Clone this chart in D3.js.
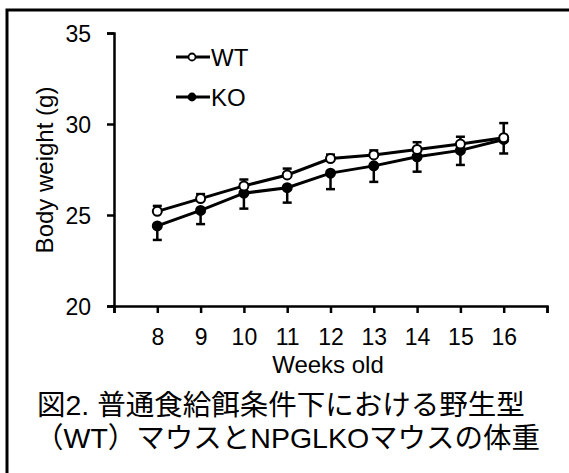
<!DOCTYPE html>
<html lang="ja">
<head>
<meta charset="utf-8">
<title>Body weight</title>
<style>
  body { margin:0; background:#fff; }
  svg { display:block; }
  svg text { font-family:"Liberation Sans", Arial, "Noto Sans CJK JP", sans-serif; fill:#000; }
  .axis path, .axis line { stroke:#000; stroke-width:2.5px; }
  .axis text { font-size:23px; }
</style>
</head>
<body>
<div id="chart"></div>
<script src="https://cdnjs.cloudflare.com/ajax/libs/d3/7.8.5/d3.min.js"></script>
<script>
// data
var weeks = [8, 9, 10, 11, 12, 13, 14, 15, 16];
var wtMean = [25.2, 25.9, 26.6, 27.2, 28.1, 28.3, 28.6, 28.9, 29.25];
var wtErr  = [0.3, 0.25, 0.35, 0.35, 0.22, 0.25, 0.4, 0.4, 0.8];
var koMean = [24.4, 25.25, 26.2, 26.5, 27.3, 27.7, 28.2, 28.55, 29.15];
var koErr  = [0.77, 0.75, 0.85, 0.82, 0.88, 0.88, 0.82, 0.8, 0.77];
var yTicks = [20, 25, 30, 35];

var W = 569, H = 473;
var svg = d3.select("#chart").append("svg")
    .attr("width", W)
    .attr("height", H);

// frame (only top and left edges fall inside the picture)
svg.append("rect")
    .attr("x", 7).attr("y", 10)
    .attr("width", W + 20).attr("height", H + 20)
    .attr("fill", "none").attr("stroke", "#000").attr("stroke-width", 3);

var x = d3.scaleLinear().domain([7, 17]).range([114, 547]);
var y = d3.scaleLinear().domain([20, 35]).range([306, 33]);

// axes
var xAxis = svg.append("g")
    .attr("class", "axis")
    .attr("transform", "translate(0," + y(20) + ")")
    .call(d3.axisBottom(x).tickValues(d3.range(7, 18)).tickSize(7).tickSizeOuter(7)
      .tickFormat(function(d) { return weeks.indexOf(d) >= 0 ? d : ""; }));
xAxis.selectAll("text").attr("y", 31).attr("dy", "0.35em");

svg.append("g")
    .attr("class", "axis")
    .attr("transform", "translate(" + x(7) + ",0)")
    .call(d3.axisLeft(y).tickValues(yTicks).tickSize(7).tickSizeOuter(7).tickPadding(16))
    .selectAll("text").attr("dy", "0.35em");

var line = d3.line()
    .x(function(d) { return x(d[0]); })
    .y(function(d) { return y(d[1]); });

function series(means, errs, dir, fill) {
  var pts = weeks.map(function(w, i) { return [w, means[i], errs[i]]; });
  var g = svg.append("g");
  // error bars (WT up, KO down)
  g.selectAll("line.err").data(pts).enter().append("line")
      .attr("x1", function(d) { return x(d[0]); })
      .attr("x2", function(d) { return x(d[0]); })
      .attr("y1", function(d) { return y(d[1]); })
      .attr("y2", function(d) { return y(d[1] + dir * d[2]); })
      .attr("stroke", "#000").attr("stroke-width", 2.5);
  g.selectAll("line.cap").data(pts).enter().append("line")
      .attr("x1", function(d) { return x(d[0]) - 4.5; })
      .attr("x2", function(d) { return x(d[0]) + 4.5; })
      .attr("y1", function(d) { return y(d[1] + dir * d[2]); })
      .attr("y2", function(d) { return y(d[1] + dir * d[2]); })
      .attr("stroke", "#000").attr("stroke-width", 2.5);
  g.append("path").datum(pts)
      .attr("d", line)
      .attr("fill", "none").attr("stroke", "#000").attr("stroke-width", 3);
  g.selectAll("circle").data(pts).enter().append("circle")
      .attr("cx", function(d) { return x(d[0]); })
      .attr("cy", function(d) { return y(d[1]); })
      .attr("r", 4.5)
      .attr("fill", fill).attr("stroke", "#000").attr("stroke-width", 2);
}

series(koMean, koErr, -1, "#000");
series(wtMean, wtErr, 1, "#fff");

// legend
var legend = [["WT", "#fff", 57], ["KO", "#000", 97]];
legend.forEach(function(l) {
  svg.append("line")
      .attr("x1", 176).attr("x2", 210).attr("y1", l[2]).attr("y2", l[2])
      .attr("stroke", "#000").attr("stroke-width", 3);
  svg.append("circle")
      .attr("cx", 192).attr("cy", l[2]).attr("r", 3.5)
      .attr("fill", l[1]).attr("stroke", "#000").attr("stroke-width", 1.8);
  svg.append("text")
      .attr("x", 211).attr("y", l[2]).attr("dy", "0.36em")
      .style("font-size", "24px")
      .text(l[0]);
});

// axis titles
svg.append("text")
    .attr("transform", "translate(45,170) rotate(-90)")
    .attr("dy", "0.35em")
    .style("text-anchor", "middle")
    .style("font-size", "24px")
    .text("Body weight (g)");

svg.append("text")
    .attr("x", 328).attr("y", 365).attr("dy", "0.35em")
    .style("text-anchor", "middle")
    .style("font-size", "24px")
    .text("Weeks old");

// caption
svg.append("text")
    .attr("x", 37).attr("y", 405).attr("dy", "0.36em")
    .style("font-size", "28.5px")
    .text("図2. 普通食給餌条件下における野生型");
svg.append("text")
    .attr("x", 35).attr("y", 438).attr("dy", "0.36em")
    .style("font-size", "28.5px")
    .text("（WT）マウスとNPGLKOマウスの体重");
</script>
</body>
</html>
